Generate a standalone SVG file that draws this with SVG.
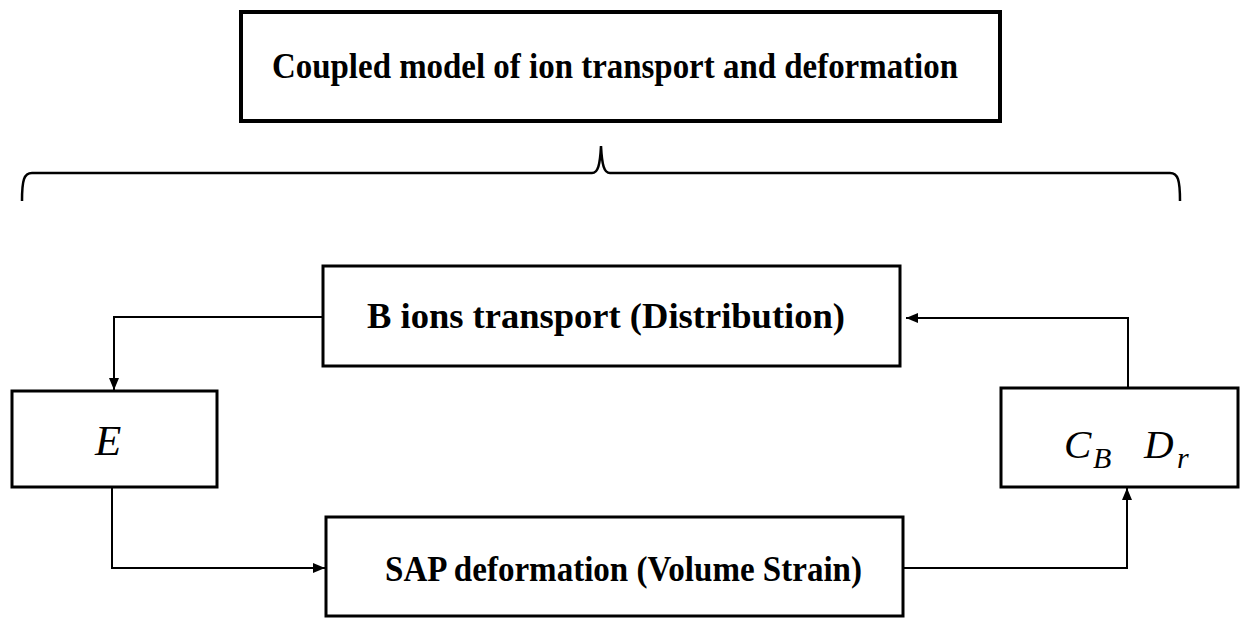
<svg xmlns="http://www.w3.org/2000/svg" width="1248" height="628" viewBox="0 0 1248 628">
<style>
.box{fill:#fff;stroke:#000;stroke-width:3}
.lbl{font-family:"Liberation Serif","Times New Roman",serif;font-weight:bold;font-size:35px;fill:#000}
.math{font-family:"Liberation Serif","DejaVu Serif",serif;font-style:italic;fill:#000}
.conn{fill:none;stroke:#000;stroke-width:2}
</style>
<defs>
<marker id="arr" markerWidth="12" markerHeight="10" refX="12" refY="5" orient="auto" markerUnits="userSpaceOnUse">
<path d="M0,0 L12,5 L0,10 Z" fill="#000"/>
</marker>
</defs>
<rect width="1248" height="628" fill="#fff"/>
<g id="title">
<rect x="241" y="12" width="759" height="109" fill="#fff" stroke="#000" stroke-width="4"/>
<text class="lbl" x="272" y="78" textLength="686" lengthAdjust="spacingAndGlyphs">Coupled model of ion transport and deformation</text>
</g>
<g id="brace">
<path d="M22,201 C22,180 24,173 32,173 L592,173 C598,173 600,165 601,146 C602,165 604,173 610,173 L1170,173 C1178,173 1180,180 1180,201" fill="none" stroke="#000" stroke-width="2.5"/>
</g>
<g id="b-ions">
<rect class="box" x="323" y="266" width="577" height="100"/>
<text class="lbl" x="367" y="328" textLength="478" lengthAdjust="spacingAndGlyphs">B ions transport (Distribution)</text>
</g>
<g id="e-node">
<rect class="box" x="12" y="391" width="205" height="96"/>
<text class="math" x="95" y="455" font-size="43">E</text>
</g>
<g id="cb-dr">
<rect class="box" x="1001" y="388" width="237" height="99"/>
<text class="math" x="1064" y="458" font-size="41">C</text>
<text class="math" x="1093" y="468" font-size="30">B</text>
<text class="math" x="1144" y="458" font-size="41">D</text>
<text class="math" x="1177" y="468" font-size="30">r</text>
</g>
<g id="sap">
<rect class="box" x="326" y="517" width="577" height="99"/>
<text class="lbl" x="385" y="581" textLength="477" lengthAdjust="spacingAndGlyphs">SAP deformation (Volume Strain)</text>
</g>
<g id="connectors">
<polyline class="conn" points="323,317 114,317 114,390" marker-end="url(#arr)"/>
<polyline class="conn" points="112,487 112,568 325,568" marker-end="url(#arr)"/>
<polyline class="conn" points="903,568 1127,568 1127,488" marker-end="url(#arr)"/>
<polyline class="conn" points="1128,388 1128,318 906,318" marker-end="url(#arr)"/>
</g>
</svg>
